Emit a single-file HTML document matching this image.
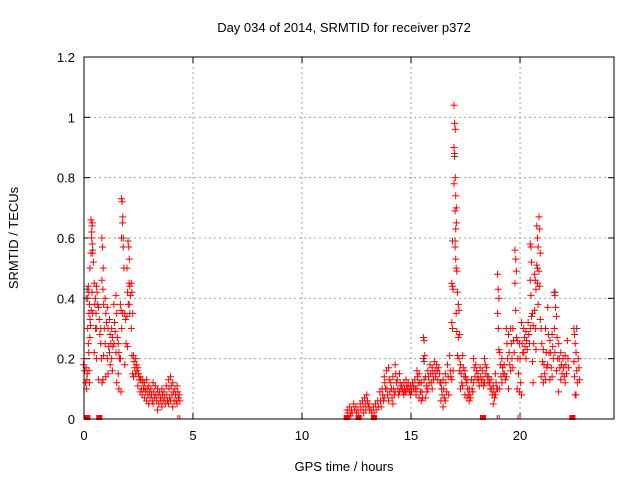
<!DOCTYPE html>
<html><head><meta charset="utf-8"><style>
html,body{margin:0;padding:0;background:#fff;}
svg{display:block;font-family:"Liberation Sans",sans-serif;}
</style></head><body>
<svg id="chart" width="640" height="480" viewBox="0 0 640 480">
<text x="344" y="32" font-size="13" text-anchor="middle" fill="#000">Day 034 of 2014, SRMTID for receiver p372</text>
<text x="0" y="0" font-size="13" text-anchor="middle" fill="#000" transform="translate(18,238) rotate(-90)">SRMTID / TECUs</text>
<text x="344" y="471" font-size="13" text-anchor="middle" fill="#000">GPS time / hours</text>
<g id="grid"></g>
<g id="ticks"></g>
<g id="gray"></g>
<g id="red"></g>
<rect x="84" y="57" width="530" height="362" fill="none" stroke="#000" stroke-width="1"/>
</svg>
<script>
const yTicks=[0,0.2,0.4,0.6,0.8,1,1.2];
const yTickLabels=["0","0.2","0.4","0.6","0.8","1","1.2"];
const xTicks=[0,5,10,15,20];
const xTickLabels=["0","5","10","15","20"];
const redHours=[0.0,0.1,0.15,0.2,0.25,0.3,0.35,0.4,0.5,0.55,0.6,0.7,0.8,0.85,0.9,1.0,1.1,1.2,1.3,1.4,1.5,1.6,1.7,1.75,1.8,1.9,2.0,2.05,2.1,2.2,2.3,2.4,2.5,2.6,2.7,2.8,2.9,3.0,3.1,3.2,3.3,3.4,3.5,3.6,3.7,3.8,3.9,4.0,4.1,4.2,4.3,4.4,
12.1,12.2,12.3,12.4,12.5,12.6,12.7,12.8,12.9,13.0,13.1,13.2,13.3,13.4,13.5,13.6,13.7,13.8,13.9,14.0,14.1,14.2,14.3,14.4,14.5,14.6,14.7,14.8,14.9,15.0,15.1,15.2,15.3,15.4,15.5,15.6,15.7,15.8,15.9,16.0,16.1,16.2,16.3,16.4,16.5,16.6,16.7,16.8,16.9,17.0,17.05,17.1,17.2,17.3,17.4,17.5,17.6,17.7,17.8,17.9,18.0,18.1,18.2,18.3,18.4,18.5,18.6,18.7,18.8,18.9,19.0,19.1,19.2,19.3,19.4,19.5,19.6,19.7,19.8,19.9,20.0,20.1,20.2,20.3,20.4,20.5,20.6,20.7,20.8,20.9,21.0,21.1,21.2,21.3,21.4,21.5,21.6,21.7,21.8,21.9,22.0,22.1,22.2,22.5,22.6,22.7];
const redValues=[[0.18,0.2,0.16],[0.12,0.17,0.13],[0.1,0.15],[0.4,0.44,0.35,0.3,0.25,0.16],[0.42,0.38,0.33,0.22,0.12],[0.5,0.31,0.36,0.27],[0.55,0.62,0.65,0.66,0.6,0.58],[0.64,0.55,0.52,0.42,0.35],[0.45,0.38,0.3,0.22],[0.4,0.35,0.3],[0.44,0.42,0.38,0.2],[0.37,0.33,0.28,0.13],[0.25,0.2,0.12,0.3],[0.6,0.57,0.5,0.46],[0.43,0.38,0.3,0.13,0.21],[0.4,0.35,0.32,0.25,0.14],[0.37,0.3,0.24,0.2,0.15],[0.33,0.28,0.25,0.22,0.18],[0.3,0.27,0.24,0.2,0.16],[0.38,0.32,0.29,0.25],[0.41,0.35,0.27,0.22,0.12],[0.25,0.22,0.2,0.15,0.1],[0.38,0.36,0.3,0.2,0.09],[0.73,0.72,0.67,0.6],[0.65,0.57,0.5,0.35],[0.35,0.33,0.25,0.18],[0.5,0.42,0.38,0.34,0.24],[0.59,0.57,0.53],[0.45,0.44,0.41,0.38],[0.45,0.42,0.35,0.3,0.21,0.15],[0.21,0.19,0.17,0.14],[0.2,0.18,0.16,0.15],[0.17,0.15,0.13,0.11],[0.14,0.13,0.1,0.09],[0.13,0.12,0.1,0.08],[0.12,0.1,0.09,0.07],[0.13,0.1,0.08,0.06],[0.11,0.09,0.07,0.05],[0.1,0.08,0.06],[0.12,0.09,0.07,0.05],[0.11,0.08,0.06],[0.1,0.08,0.05,0.03],[0.09,0.07,0.06],[0.1,0.08,0.06,0.04],[0.09,0.07,0.05],[0.11,0.08,0.06],[0.13,0.1,0.07,0.05],[0.14,0.11,0.08,0.06],[0.12,0.09,0.06,0.04],[0.1,0.08,0.06],[0.11,0.09,0.07,0.05],[0.08,0.06],
[0.03,0.02],[0.04,0.02,0.01],[0.03,0.02],[0.05,0.03],[0.04,0.02],[0.03,0.01],[0.05,0.03],[0.06,0.04,0.02],[0.07,0.05,0.03],[0.08,0.06,0.04],[0.05,0.03],[0.03,0.02],[0.04,0.02],[0.05,0.03],[0.06,0.04],[0.09,0.06,0.04],[0.1,0.08,0.06],[0.14,0.12,0.1,0.07],[0.16,0.1,0.08],[0.17,0.13,0.09,0.06],[0.12,0.1,0.07],[0.14,0.1,0.08,0.05],[0.18,0.15,0.12,0.09],[0.13,0.1,0.08],[0.15,0.12,0.1,0.09],[0.11,0.1,0.09],[0.12,0.1,0.09,0.08],[0.13,0.11,0.1,0.09],[0.12,0.1,0.09],[0.11,0.1,0.09,0.08],[0.12,0.11,0.1],[0.13,0.1,0.08],[0.16,0.14,0.12,0.1],[0.15,0.12,0.09,0.07],[0.12,0.09,0.07,0.06],[0.27,0.26,0.21,0.2,0.13],[0.14,0.11,0.09,0.07],[0.16,0.14,0.12,0.1],[0.18,0.15,0.12],[0.17,0.15,0.13,0.1],[0.19,0.16,0.14],[0.18,0.16,0.13],[0.17,0.15,0.12],[0.12,0.1,0.08,0.06],[0.13,0.1,0.07,0.04],[0.15,0.12,0.09,0.06],[0.18,0.14,0.08],[0.21,0.16,0.14],[0.45,0.44,0.43,0.32,0.3,0.16,0.13],[1.04,0.98,0.96,0.9,0.88,0.8,0.78],[0.59,0.63,0.7,0.69,0.74,0.65,0.57,0.53],[0.5,0.49,0.42,0.35,0.29,0.21],[0.38,0.36,0.28,0.27,0.2,0.16],[0.18,0.15,0.12,0.1],[0.21,0.17,0.14,0.11],[0.16,0.14,0.12,0.08],[0.13,0.1,0.08,0.07],[0.1,0.08,0.07,0.06],[0.13,0.1,0.09],[0.2,0.17,0.14,0.12],[0.18,0.16,0.13],[0.15,0.13,0.11],[0.17,0.14,0.12],[0.16,0.13,0.11],[0.2,0.18,0.15,0.12],[0.17,0.14,0.12],[0.14,0.12,0.1],[0.13,0.1,0.08],[0.11,0.09,0.07,0.05],[0.15,0.12,0.1,0.08],[0.48,0.43,0.4,0.35,0.3,0.23,0.1],[0.22,0.18,0.14,0.1],[0.2,0.17,0.15,0.12],[0.18,0.15,0.13],[0.3,0.25,0.2,0.14],[0.28,0.22,0.18,0.1],[0.3,0.25,0.2,0.16],[0.3,0.26,0.22,0.17],[0.56,0.53,0.49,0.45,0.36,0.27],[0.26,0.2,0.15,0.1],[0.25,0.2,0.12,0.09],[0.32,0.25,0.22,0.08],[0.3,0.27,0.24,0.22],[0.29,0.26,0.23,0.2],[0.32,0.28,0.25],[0.58,0.57,0.52,0.46,0.41,0.34,0.3],[0.35,0.31,0.25,0.19,0.12],[0.48,0.46,0.43,0.36,0.3,0.23],[0.64,0.6,0.57,0.51,0.45,0.38],[0.67,0.63,0.55,0.49,0.44,0.33],[0.3,0.25,0.19,0.14],[0.23,0.18,0.15,0.12],[0.3,0.22,0.17,0.13],[0.37,0.28,0.22,0.18],[0.26,0.22,0.17,0.13],[0.28,0.24,0.2,0.14],[0.42,0.41,0.37,0.3,0.22],[0.34,0.27,0.2,0.16],[0.25,0.2,0.17,0.09],[0.22,0.18,0.15,0.13],[0.2,0.17,0.14],[0.21,0.18,0.15,0.12],[0.26,0.2,0.17],[0.3,0.28,0.25,0.19,0.14,0.08],[0.22,0.16,0.12,0.08],[0.2,0.17,0.13]];
const zeroHours=[0.15,0.7,12.05,12.6,13.3,18.3,22.4];
const zeroTickHours=[4.35,19.0,19.95];
const grayHours=[0.1,0.15,0.4,1.8,2.1,16.9,17.0,20.8,21.6,22.6,15.6];
const grayValues=[0.4,0.43,0.56,0.6,0.35,0.59,0.87,0.5,0.42,0.3,0.19];

const X0=84,X1=614,Y0=419,Y1=57,XMAX=24.31,YMAX=1.2;
function xs(v){return X0+(X1-X0)*v/XMAX;}
function ys(v){return Y0-(Y0-Y1)*v/YMAX;}
const NS="http://www.w3.org/2000/svg";
function mk(tag,attrs,parent){const e=document.createElementNS(NS,tag);for(const k in attrs)e.setAttribute(k,attrs[k]);parent.appendChild(e);return e;}
const grid=document.getElementById('grid'),ticks=document.getElementById('ticks');
yTicks.forEach((t,i)=>{
  const y=ys(t);
  if(i>0&&i<yTicks.length-1){const g=mk('line',{x1:X0,x2:X1,y1:y,y2:y,stroke:'#a0a0a0','stroke-dasharray':'2,3'},grid);
    
    }
  mk('line',{x1:X0,x2:X0+6,y1:y,y2:y,stroke:'#000'},ticks);
  mk('line',{x1:X1,x2:X1-6,y1:y,y2:y,stroke:'#000'},ticks);
  const l=mk('text',{x:X0-9,y:y+5,'font-size':13,'text-anchor':'end',fill:'#000'},ticks);
  l.textContent=yTickLabels[i];
  
  
});
xTicks.forEach((t,i)=>{
  const x=xs(t);
  if(i>0){const g=mk('line',{x1:x,x2:x,y1:Y0,y2:Y1,stroke:'#a0a0a0','stroke-dasharray':'2,3'},grid);
    
    }
  mk('line',{x1:x,x2:x,y1:Y0,y2:Y0-6,stroke:'#000'},ticks);
  mk('line',{x1:x,x2:x,y1:Y1,y2:Y1+6,stroke:'#000'},ticks);
  const l=mk('text',{x:x,y:Y0+21,'font-size':13,'text-anchor':'middle',fill:'#000'},ticks);
  l.textContent=xTickLabels[i];
  
  
});
function plus(parent,x,y,color){
  return mk('path',{d:`M${x-3.5},${y}H${x+3.5}M${x},${y-3.5}V${y+3.5}`,stroke:color,'stroke-width':1,fill:'none'},parent);
}
const gray=document.getElementById('gray'),red=document.getElementById('red');
grayHours.forEach((h,i)=>{
  const p=plus(gray,xs(h),ys(grayValues[i]),'#404040');
  
  
});
redHours.forEach((h,i)=>{
  redValues[i].forEach((v,j)=>{
    const off=(j%3-1)*0.03;
    const p=plus(red,xs(h+off),ys(v),'#ff0000');
    
    
  });
});
zeroHours.forEach(h=>{
  const r=mk('rect',{x:xs(h)-3,y:ys(0)-4,width:6,height:5,fill:'#ff0000'},red);
  
  
});
zeroTickHours.forEach(h=>{
  const p=mk('path',{d:`M${xs(h)-1},${ys(0)-4}V${ys(0)}M${xs(h)+1},${ys(0)-4}V${ys(0)}`,stroke:'#ff0000','stroke-width':1},red);
  
  
});
</script>
</body></html>
